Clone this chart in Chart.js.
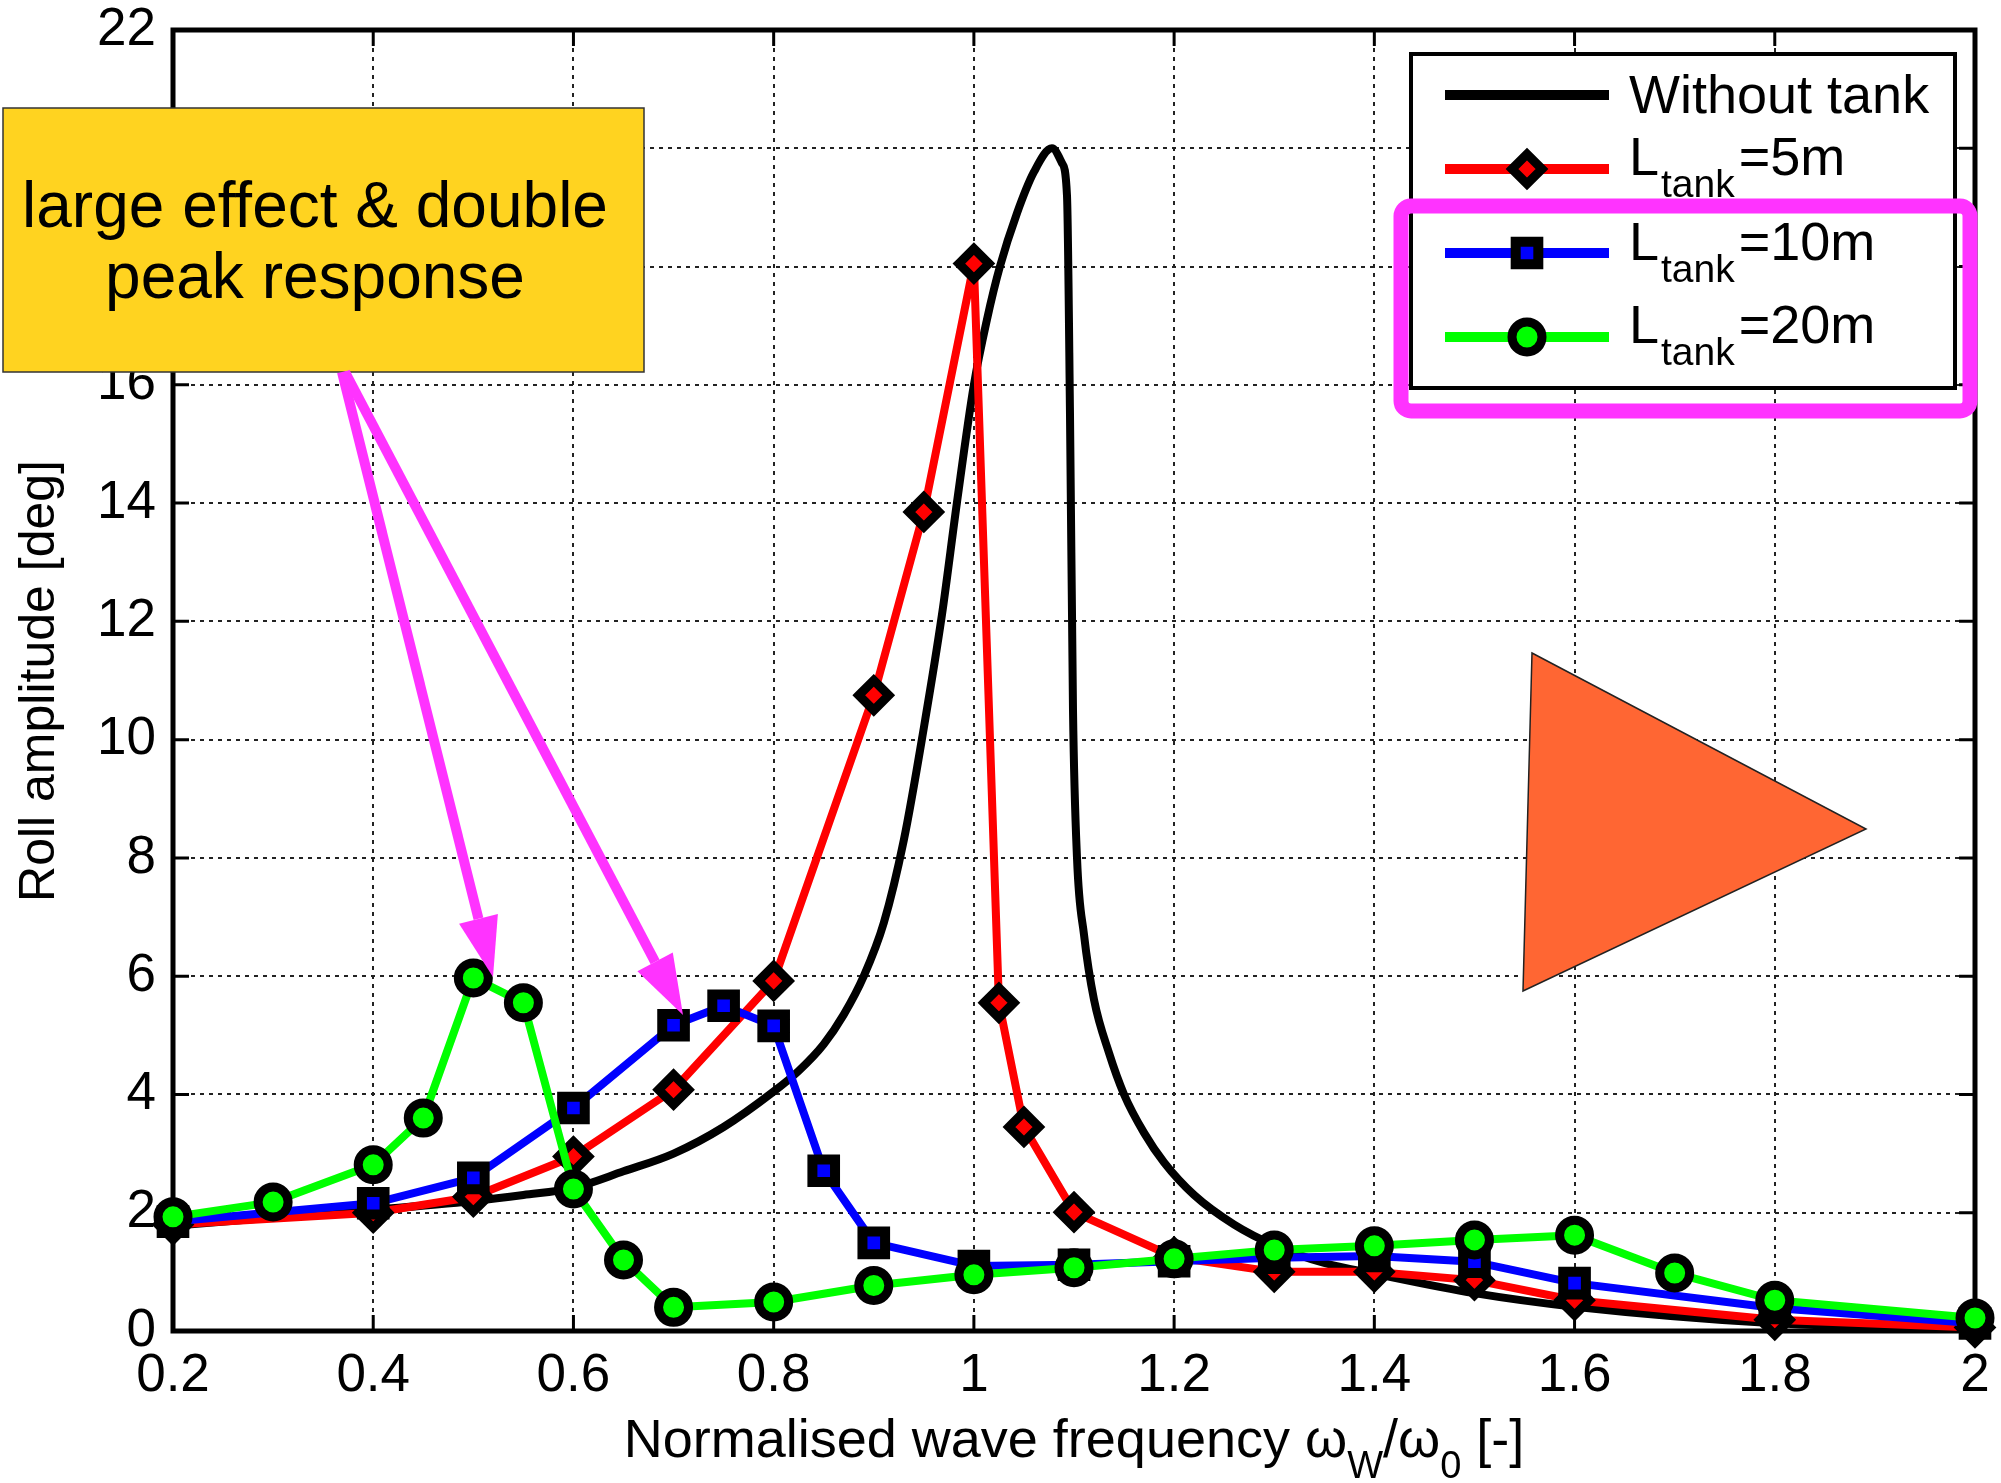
<!DOCTYPE html>
<html>
<head>
<meta charset="utf-8">
<script src="https://cdn.jsdelivr.net/npm/chart.js@4.4.1/dist/chart.umd.min.js"></script>
<style>
  html, body { margin: 0; padding: 0; background: #fff; }
  #wrap { width: 2001px; height: 1483px; }
</style>
</head>
<body>
<div id="wrap"><canvas id="rollChart" width="2001" height="1483"></canvas></div>
<script>
const FONT = '"Liberation Sans", Arial, Helvetica, sans-serif';

// roll response without tank (smooth curve)
const freqNoTank = [0.2, 0.3, 0.4, 0.5, 0.55, 0.6, 0.65, 0.7, 0.75, 0.8, 0.825, 0.85, 0.87, 0.89, 0.91, 0.93, 0.95, 0.968,
  0.983, 1.0, 1.013, 1.026, 1.043, 1.06, 1.078, 1.088, 1.093, 1.096, 1.099, 1.103, 1.11, 1.12, 1.135, 1.15,
  1.17, 1.19, 1.22, 1.26, 1.3, 1.35, 1.4, 1.5, 1.6, 1.8, 2.0];
const rollNoTank = [1.78, 1.92, 2.05, 2.2, 2.3, 2.42, 2.7, 3.0, 3.45, 4.05, 4.4, 4.85, 5.35, 6.0, 6.9, 8.3, 10.2, 12.1,
  14.0, 16.0, 17.1, 18.0, 18.9, 19.6, 20.0, 19.75, 19.2, 15.5, 10.5, 8.0, 6.7, 5.6, 4.7, 4.0,
  3.35, 2.85, 2.3, 1.8, 1.45, 1.15, 0.97, 0.64, 0.41, 0.13, 0.03];

// L_tank = 5m
const freq5m = [0.2, 0.4, 0.5, 0.6, 0.7, 0.8, 0.9, 0.95, 1.0, 1.025, 1.05, 1.1, 1.2, 1.3, 1.4, 1.5, 1.6, 1.8, 2.0];
const roll5m = [1.8, 2.0, 2.27, 2.95, 4.08, 5.92, 10.75, 13.85, 18.05, 5.55, 3.45, 2.01, 1.25, 1.0, 1.0, 0.86, 0.52, 0.19, 0.06];

// L_tank = 10m
const freq10m = [0.2, 0.4, 0.5, 0.6, 0.7, 0.75, 0.8, 0.85, 0.9, 1.0, 1.1, 1.2, 1.3, 1.4, 1.5, 1.6, 1.8, 2.0];
const roll10m = [1.85, 2.16, 2.59, 3.77, 5.17, 5.5, 5.16, 2.71, 1.49, 1.1, 1.12, 1.18, 1.24, 1.27, 1.17, 0.81, 0.39, 0.13];

// L_tank = 20m
const freq20m = [0.2, 0.3, 0.4, 0.45, 0.5, 0.55, 0.6, 0.65, 0.7, 0.8, 0.9, 1.0, 1.1, 1.2, 1.3, 1.4, 1.5, 1.6, 1.7, 1.8, 2.0];
const roll20m = [1.93, 2.18, 2.81, 3.6, 5.97, 5.55, 2.4, 1.2, 0.4, 0.49, 0.77, 0.95, 1.07, 1.22, 1.37, 1.44, 1.54, 1.62, 0.98, 0.52, 0.22];

const xTicks = [0.2, 0.4, 0.6, 0.8, 1, 1.2, 1.4, 1.6, 1.8, 2];
const xTickLabels = ['0.2', '0.4', '0.6', '0.8', '1', '1.2', '1.4', '1.6', '1.8', '2'];
const yTicks = [0, 2, 4, 6, 8, 10, 12, 14, 16, 18, 20, 22];
const yTickLabels = ['0', '2', '4', '6', '8', '10', '12', '14', '16', '18', '20', '22'];

// legend entries: main text, subscript, rest
const legendMain = ['Without tank', 'L', 'L', 'L'];
const legendSub = ['', 'tank', 'tank', 'tank'];
const legendTail = ['', '=5m', '=10m', '=20m'];

const yTitle = 'Roll amplitude [deg]';
const noteLines = ['large effect & double', 'peak response'];

function pts(xs, ys) {
  return xs.map((x, i) => ({ x: x, y: ys[i] }));
}

const markers = [
  { color: '#000000', style: false, radius: 0, border: 0 },
  { color: '#ff0000', style: 'rectRot', radius: 15, border: 9 },
  { color: '#0000ff', style: 'rect', radius: 16, border: 10 },
  { color: '#00ff00', style: 'circle', radius: 15, border: 9 }
];

function series(i, data, order) {
  const m = markers[i];
  return {
    label: legendMain[i] + legendSub[i] + legendTail[i],
    data: data,
    borderColor: m.color,
    backgroundColor: m.color,
    borderWidth: 8,
    borderJoinStyle: 'round',
    pointStyle: m.style,
    pointRadius: m.radius,
    pointBorderWidth: m.border,
    pointBorderColor: '#000',
    pointBackgroundColor: m.color,
    pointHoverRadius: m.radius,
    tension: 0,
    clip: false,
    order: order
  };
}

const datasets = [
  Object.assign(series(0, pts(freqNoTank, rollNoTank), 4), { cubicInterpolationMode: 'monotone' }),
  series(1, pts(freq5m, roll5m), 3),
  series(2, pts(freq10m, roll10m), 2),
  series(3, pts(freq20m, roll20m), 1)
];

// axes box with inward tick marks, drawn under the data
const framePlugin = {
  id: 'frame',
  beforeDatasetsDraw(chart) {
    const { ctx, chartArea: a, scales } = chart;
    ctx.save();
    ctx.strokeStyle = '#000';
    ctx.lineWidth = 3;
    ctx.beginPath();
    xTicks.forEach(v => {
      const px = scales.x.getPixelForValue(v);
      ctx.moveTo(px, a.bottom); ctx.lineTo(px, a.bottom - 16);
      ctx.moveTo(px, a.top); ctx.lineTo(px, a.top + 16);
    });
    yTicks.forEach(v => {
      const py = scales.y.getPixelForValue(v);
      ctx.moveTo(a.left, py); ctx.lineTo(a.left + 16, py);
      ctx.moveTo(a.right, py); ctx.lineTo(a.right - 16, py);
    });
    ctx.stroke();
    ctx.lineWidth = 5;
    ctx.strokeRect(a.left, a.top, a.right - a.left, a.bottom - a.top);
    ctx.restore();
  }
};

function drawArrow(ctx, x0, y0, x1, y1, headLen, headHalf, width) {
  const dx = x1 - x0, dy = y1 - y0;
  const len = Math.sqrt(dx * dx + dy * dy);
  const ux = dx / len, uy = dy / len;
  const bx = x1 - ux * headLen, by = y1 - uy * headLen;
  ctx.beginPath();
  ctx.moveTo(x0, y0);
  ctx.lineTo(bx, by);
  ctx.lineWidth = width;
  ctx.stroke();
  ctx.beginPath();
  ctx.moveTo(x1, y1);
  ctx.lineTo(bx - uy * headHalf, by + ux * headHalf);
  ctx.lineTo(bx + uy * headHalf, by - ux * headHalf);
  ctx.closePath();
  ctx.fill();
}

function drawMarker(ctx, i, x, y) {
  const m = markers[i];
  if (!m.style) return;
  ctx.fillStyle = m.color;
  ctx.strokeStyle = '#000';
  ctx.lineWidth = m.border;
  Chart.helpers.drawPoint(ctx, { pointStyle: m.style, radius: m.radius, rotation: 0, borderWidth: m.border }, x, y);
}

// titles, legend and slide annotations
const overlayPlugin = {
  id: 'overlay',
  afterDraw(chart) {
    const { ctx, chartArea: a } = chart;
    ctx.save();

    // y title
    ctx.fillStyle = '#000';
    ctx.font = '50px ' + FONT;
    ctx.textAlign = 'center';
    ctx.textBaseline = 'middle';
    ctx.translate(40, 681);
    ctx.rotate(-Math.PI / 2);
    ctx.fillText(yTitle, 0, 0);
    ctx.setTransform(1, 0, 0, 1, 0, 0);

    // x title with subscripts
    const parts = [
      ['Normalised wave frequency \u03c9', false], ['W', true], ['/\u03c9', false], ['0', true], [' [-]', false]
    ];
    ctx.textAlign = 'left';
    ctx.textBaseline = 'alphabetic';
    let total = 0;
    parts.forEach(p => { ctx.font = (p[1] ? '38px ' : '54px ') + FONT; total += ctx.measureText(p[0]).width; });
    let tx = (a.left + a.right) / 2 - total / 2;
    parts.forEach(p => {
      ctx.font = (p[1] ? '38px ' : '54px ') + FONT;
      ctx.fillText(p[0], tx, p[1] ? 1478 : 1457);
      tx += ctx.measureText(p[0]).width;
    });

    // legend box
    ctx.fillStyle = '#fff';
    ctx.fillRect(1411, 54, 544, 334);
    ctx.strokeStyle = '#000';
    ctx.lineWidth = 4;
    ctx.strokeRect(1411, 54, 544, 334);
    const rowY = [95, 169, 253, 337];
    const textY = [113, 175, 260, 343];
    for (let i = 0; i < 4; i++) {
      ctx.strokeStyle = markers[i].color;
      ctx.lineWidth = 10;
      ctx.beginPath();
      ctx.moveTo(1445, rowY[i]);
      ctx.lineTo(1609, rowY[i]);
      ctx.stroke();
      drawMarker(ctx, i, 1527, rowY[i]);
      ctx.fillStyle = '#000';
      ctx.font = '54px ' + FONT;
      ctx.fillText(legendMain[i], 1629, textY[i]);
      let lx = 1629 + ctx.measureText(legendMain[i]).width + 2;
      if (legendSub[i]) {
        ctx.font = '39px ' + FONT;
        ctx.fillText(legendSub[i], lx, textY[i] + 22);
        lx += ctx.measureText(legendSub[i]).width + 4;
        ctx.font = '54px ' + FONT;
        ctx.fillText(legendTail[i], lx, textY[i]);
      }
    }

    // magenta highlight around the tank entries
    ctx.strokeStyle = '#ff33ff';
    ctx.lineWidth = 15;
    ctx.beginPath();
    ctx.roundRect(1401, 206, 569, 205, 10);
    ctx.stroke();

    // yellow note box
    ctx.fillStyle = '#ffd320';
    ctx.fillRect(3, 108, 641, 264);
    ctx.strokeStyle = '#333';
    ctx.lineWidth = 1.5;
    ctx.strokeRect(3, 108, 641, 264);
    ctx.fillStyle = '#000';
    ctx.font = '64px ' + FONT;
    ctx.textAlign = 'center';
    ctx.fillText(noteLines[0], 315, 227);
    ctx.fillText(noteLines[1], 315, 298);

    // magenta arrows
    ctx.strokeStyle = '#ff33ff';
    ctx.fillStyle = '#ff33ff';
    ctx.lineCap = 'butt';
    drawArrow(ctx, 342, 372, 493, 977, 60, 20, 10);
    drawArrow(ctx, 345, 372, 683, 1015, 60, 20, 10);

    // orange triangle
    ctx.fillStyle = '#ff6633';
    ctx.strokeStyle = '#222';
    ctx.lineWidth = 1.5;
    ctx.beginPath();
    ctx.moveTo(1532, 653);
    ctx.lineTo(1866, 829);
    ctx.lineTo(1523, 991);
    ctx.closePath();
    ctx.fill();
    ctx.stroke();

    ctx.restore();
  }
};

const ctx = document.getElementById('rollChart').getContext('2d');
const chart = new Chart(ctx, {
  type: 'line',
  data: { datasets: datasets },
  options: {
    responsive: false,
    animation: false,
    devicePixelRatio: 1,
    events: [],
    layout: { padding: { top: 30, right: 19, left: 0, bottom: 0 } },
    plugins: {
      legend: { display: false },
      tooltip: { enabled: false },
      title: { display: false }
    },
    scales: {
      x: {
        type: 'linear',
        min: 0.2,
        max: 2,
        afterBuildTicks: (scale) => { scale.ticks = xTicks.map(v => ({ value: v })); },
        afterFit: (scale) => { scale.height = 152; },
        ticks: {
          autoSkip: false,
          maxRotation: 0,
          padding: 0,
          color: '#000',
          font: { family: FONT, size: 53, lineHeight: 1.72 },
          callback: (v, i) => xTickLabels[i]
        },
        grid: { color: '#222', lineWidth: 2, drawTicks: false },
        border: { display: false, dash: [4, 5] }
      },
      y: {
        type: 'linear',
        min: 0,
        max: 22,
        afterBuildTicks: (scale) => { scale.ticks = yTicks.map(v => ({ value: v })); },
        afterFit: (scale) => { scale.width = 173; },
        ticks: {
          autoSkip: false,
          padding: 17,
          color: '#000',
          font: { family: FONT, size: 53, lineHeight: 0.2 },
          callback: (v, i) => yTickLabels[i]
        },
        grid: { color: '#222', lineWidth: 2, drawTicks: false },
        border: { display: false, dash: [4, 5] }
      }
    }
  },
  plugins: [framePlugin, overlayPlugin]
});
</script>
</body>
</html>
